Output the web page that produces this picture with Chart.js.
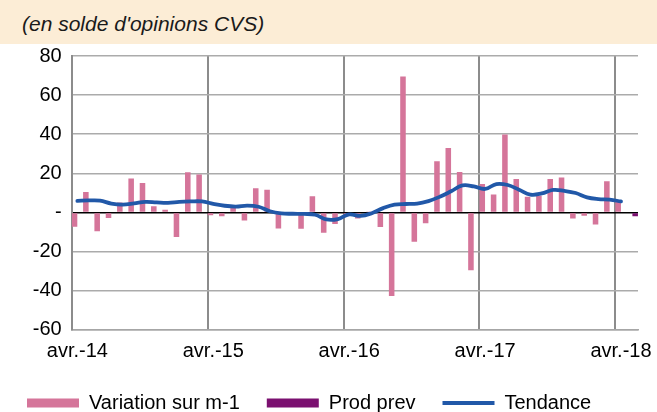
<!DOCTYPE html>
<html lang="fr">
<head>
  <meta charset="UTF-8">
  <title>Solde d'opinions CVS</title>
  <script src="https://cdn.jsdelivr.net/npm/chart.js@4.4.0/dist/chart.umd.min.js"></script>
  <style>
    html, body {
      margin: 0;
      padding: 0;
      width: 657px;
      height: 412px;
      overflow: hidden;
      background: #ffffff;
      font-family: "Liberation Sans", Arial, sans-serif;
    }
    #band {
      position: absolute;
      left: 0;
      top: 0;
      width: 657px;
      height: 44px;
      background: #fcedd6;
      font-style: italic;
      font-size: 21px;
      line-height: 48px;
      padding-left: 22px;
      box-sizing: border-box;
      color: #1a1a1a;
    }
    #wrap {
      position: absolute;
      left: 0;
      top: 44px;
    }
  </style>
</head>
<body>
  <div id="band">(en solde d'opinions CVS)</div>
  <div id="wrap"><canvas id="chart" width="657" height="379"></canvas></div>

  <script>
    // months, avr.-14 to mai-18
    const months = [
      "avr.-14", "mai-14", "juin-14", "juil.-14", "août-14", "sept.-14", "oct.-14", "nov.-14", "déc.-14", "janv.-15", "févr.-15", "mars-15",
      "avr.-15", "mai-15", "juin-15", "juil.-15", "août-15", "sept.-15", "oct.-15", "nov.-15", "déc.-15", "janv.-16", "févr.-16", "mars-16",
      "avr.-16", "mai-16", "juin-16", "juil.-16", "août-16", "sept.-16", "oct.-16", "nov.-16", "déc.-16", "janv.-17", "févr.-17", "mars-17",
      "avr.-17", "mai-17", "juin-17", "juil.-17", "août-17", "sept.-17", "oct.-17", "nov.-17", "déc.-17", "janv.-18", "févr.-18", "mars-18",
      "avr.-18", "mai-18"
    ];

    // Variation sur m-1
    const variation = [
      -7.3, 10.4, -9.7, -2.9, 5.1, 17.3, 15.1, 3.2, 1.4, -12.6, 20.6, 19.4,
      -1.5, -2.0, 2.5, -4.2, 12.4, 11.6, -8.2, -0.5, -8.3, 8.3, -10.4, -5.9,
      -1.7, -3.1, 0.5, -7.5, -42.7, 69.5, -15.0, -5.5, 26.2, 33.0, 20.7, -29.6,
      14.5, 9.2, 39.9, 17.1, 8.0, 8.5, 17.1, 17.8, -3.1, -1.7, -6.2, 15.9,
      6.2, null
    ];

    // Prod prev (only the last month)
    const prodPrev = [
      null, null, null, null, null, null, null, null, null, null, null, null,
      null, null, null, null, null, null, null, null, null, null, null, null,
      null, null, null, null, null, null, null, null, null, null, null, null,
      null, null, null, null, null, null, null, null, null, null, null, null,
      null, -2.0
    ];

    // Tendance
    const tendance = [
      5.9, 6.1, 6.0, 4.5, 4.0, 4.6, 5.4, 5.1, 4.9, 5.4, 5.6, 5.6,
      4.4, 3.4, 3.0, 3.5, 2.9, 0.6, -0.5, -0.7, -0.8, -1.2, -3.6, -3.4,
      -1.0, -1.8, -0.4, 2.2, 4.0, 4.3, 4.5, 5.8, 8.0, 10.8, 13.8, 13.3,
      12.0, 14.5, 14.0, 11.6, 9.1, 9.7, 11.5, 11.0, 9.9, 7.7, 6.8, 6.5,
      5.6, null
    ];

    const yTicks = [-60, -40, -20, 0, 20, 40, 60, 80];

    const font = { family: "'Liberation Sans', Arial, sans-serif", size: 20 };

    const ctx = document.getElementById("chart").getContext("2d");
    const chart = new Chart(ctx, {
      data: {
        labels: months,
        datasets: [
          {
            type: "bar",
            label: "Variation sur m-1",
            data: variation,
            backgroundColor: "#d5759a",
            pointStyle: "rect",
            categoryPercentage: 1,
            barPercentage: 0.98,
            order: 1
          },
          {
            type: "bar",
            label: "Prod prev",
            data: prodPrev,
            backgroundColor: "#7b1070",
            pointStyle: "rect",
            categoryPercentage: 1,
            barPercentage: 0.98,
            order: 1
          },
          {
            type: "line",
            label: "Tendance",
            data: tendance,
            borderColor: "#2158a8",
            backgroundColor: "#2158a8",
            borderWidth: 3.8,
            borderCapStyle: "round",
            pointRadius: 0,
            pointStyle: "line",
            tension: 0.4,
            order: 0
          }
        ]
      },
      options: {
        responsive: false,
        animation: false,
        layout: { padding: { left: 0, right: 19, top: 12, bottom: 0 } },
        plugins: {
          tooltip: { enabled: false },
          legend: {
            position: "bottom",
            align: "start",
            labels: {
              usePointStyle: true,
              pointStyleWidth: 52,
              boxHeight: 9,
              padding: 27,
              color: "#000",
              font: font,
              sort: (a, b) => a.datasetIndex - b.datasetIndex
            }
          }
        },
        scales: {
          x: {
            offset: true,
            grid: {
              offset: true,
              drawTicks: false,
              color: (c) => (c.index % 12 === 0 ? "#8c8c8c" : "rgba(0,0,0,0)"),
              lineWidth: 2
            },
            border: { display: true, color: "#a6a6a6", width: 1.5 },
            ticks: {
              autoSkip: false,
              maxRotation: 0,
              padding: 10,
              color: "#000",
              font: font,
              callback: function (value) {
                const lab = this.getLabelForValue(value);
                return lab.startsWith("avr.") ? lab : "";
              }
            },
            afterFit: (scale) => { scale.height = 36.3; }
          },
          y: {
            min: -60,
            max: 80,
            afterBuildTicks: (scale) => { scale.ticks = yTicks.map((v) => ({ value: v })); },
            grid: {
              drawTicks: false,
              color: (c) => (c.tick && c.tick.value === 0 ? "#000000" : "#ababab"),
              lineWidth: 1.5
            },
            border: { display: true, color: "#8c8c8c", width: 2 },
            ticks: {
              padding: 10,
              color: "#000",
              font: font,
              callback: (v) => (v === 0 ? "-" : v)
            },
            afterFit: (scale) => {
              scale.width = 71.7;
              scale.paddingTop = 0;
              scale.paddingBottom = 0;
            }
          }
        }
      }
    });
  </script>
</body>
</html>
